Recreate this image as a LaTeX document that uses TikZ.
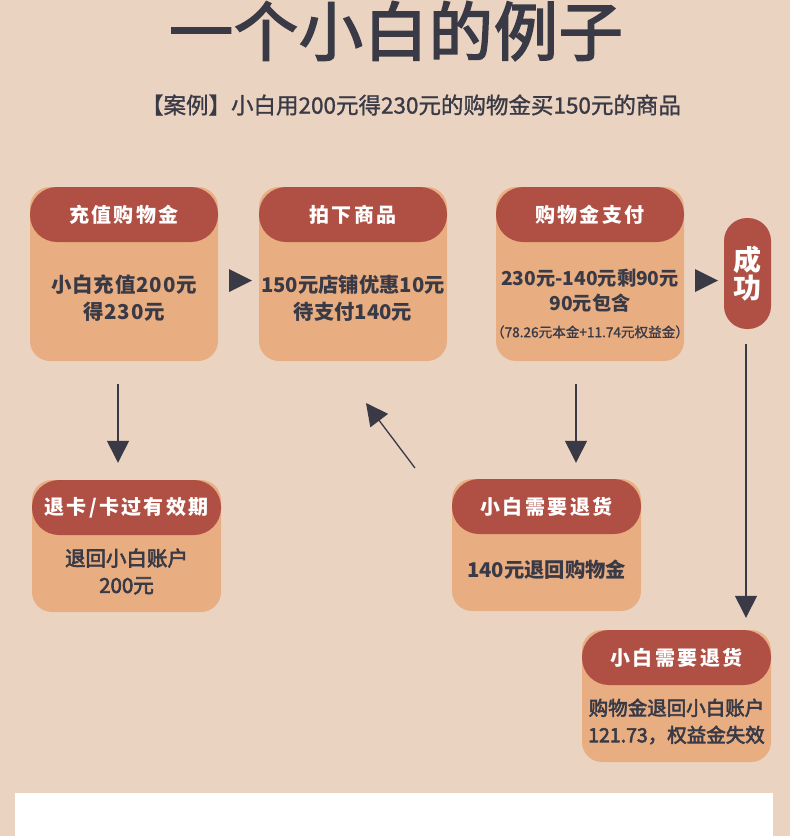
\documentclass[tikz,border=0pt]{standalone}
\usepackage{fontspec}
\setmainfont{Noto Sans CJK SC}
\newfontfamily\cjk{Noto Sans CJK SC}
\newfontfamily\cjkm[FakeBold=3]{Noto Sans CJK SC}
\newfontfamily\cjkl[FakeBold=1.2]{Noto Sans CJK SC}
\newfontfamily\cjksp[LetterSpace=12]{Noto Sans CJK SC}
\newfontfamily\cjkbs[LetterSpace=4]{Noto Sans CJK SC}
\newfontfamily\cjkti[LetterSpace=1.5,FakeBold=2.6]{Noto Sans CJK SC}
\usetikzlibrary{arrows.meta}
\definecolor{bgc}{HTML}{EAD3C0}
\definecolor{bodyc}{HTML}{E8AE82}
\definecolor{headc}{HTML}{B05044}
\definecolor{darkc}{HTML}{393A46}
\begin{document}
\begin{tikzpicture}[x=1pt,y=-1pt,
  body/.style={fill=bodyc, rounded corners=20pt, minimum width=188pt, inner sep=0pt},
  head/.style={fill=headc, rounded corners=27pt, minimum width=188pt, minimum height=55pt, inner sep=0pt, text=white, font=\cjksp\bfseries\fontsize{20}{24}\selectfont},
  txt/.style={text=darkc, align=center, font=\cjk\bfseries\fontsize{20.3}{27}\selectfont},
  conn/.style={draw=darkc, line width=1.3pt, -{Triangle[length=22pt,width=22pt]}},
  tri/.style={fill=darkc}]
\fill[bgc] (0,0) rectangle (790,836);
\useasboundingbox (0,0) rectangle (790,836);
% title
\node[text=darkc, font=\cjkti\fontsize{64}{70}\selectfont] (title) at (396,31) {一个小白的例子};
\node[text=darkc, font=\cjkl\fontsize{22.5}{24}\selectfont] (sub) at (411,105) {【案例】小白用200元得230元的购物金买150元的商品};
% row 1
\node[body, minimum height=174pt] (b1) at (124,274) {};
\node[head, anchor=north] (h1) at (b1.north) {充值购物金};
\node[txt, font=\cjkbs\bfseries\fontsize{20.5}{27}\selectfont] (t1) at (124,298.5) {小白充值200元\\得230元};
\node[body, minimum height=174pt] (b2) at (353,274) {};
\node[head, anchor=north] (h2) at (b2.north) {拍下商品};
\node[txt] (t2) at (353,298.5) {150元店铺优惠10元\\待支付140元};
\node[body, minimum height=174pt] (b3) at (590,274) {};
\node[head, anchor=north] (h3) at (b3.north) {购物金支付};
\node[txt, font=\cjk\bfseries\fontsize{19.2}{25}\selectfont] (t3) at (590,290.5) {230元-140元剩90元\\90元包含};
\node[text=darkc, font=\cjkl\fontsize{13.6}{14}\selectfont] (t3b) at (590,332) {（78.26元本金+11.74元权益金）};
\node[fill=headc, rounded corners=23pt, minimum width=47pt, minimum height=111pt, inner sep=0pt, text=white, align=center, font=\cjk\bfseries\fontsize{28}{25}\selectfont] (s) at (747.5,273.5) {成\\功};
\fill[tri] (229,269) -- (252,280.5) -- (229,292) -- cycle;
\fill[tri] (695,269) -- (718,280.5) -- (695,292) -- cycle;
% row 2
\node[body, minimum width=189pt, minimum height=132pt] (b4) at (126.5,546) {};
\node[head, minimum width=189pt, anchor=north] (h4) at (b4.north) {退卡/卡过有效期};
\node[txt, font=\cjkm\fontsize{20.5}{27}\selectfont] (t4) at (126.5,571.5) {退回小白账户\\200元};
\node[body, minimum width=189pt, minimum height=132pt] (b5) at (546.5,545) {};
\node[head, minimum width=189pt, anchor=north] (h5) at (b5.north) {小白需要退货};
\node[txt] (t5) at (546.5,570) {140元退回购物金};
\node[body, minimum width=189pt, minimum height=132pt] (b6) at (676.5,696) {};
\node[head, minimum width=189pt, anchor=north] (h6) at (b6.north) {小白需要退货};
\node[txt, font=\cjkm\fontsize{19.5}{27}\selectfont] (t6) at (676.5,721.5) {购物金退回小白账户\\121.73，权益金失效};
% connectors
\draw[conn, shorten <=23pt, shorten >=17pt] ([xshift=-6pt]b1.south) -- ([xshift=-8.5pt]h4.north);
\draw[conn, shorten <=23pt, shorten >=16pt] ([xshift=-14pt]b3.south) -- ([xshift=29.5pt]h5.north);
\coordinate (d1) at (415,468);
\coordinate (d2) at (366,403);
\draw[conn] (d1) -- (d2);
\draw[conn, shorten <=15pt, shorten >=12pt] ([xshift=-1.5pt]s.south) -- ([xshift=69.5pt]h6.north);
% white panel
\fill[white] (15,793) rectangle (773,836);
\end{tikzpicture}
\end{document}
